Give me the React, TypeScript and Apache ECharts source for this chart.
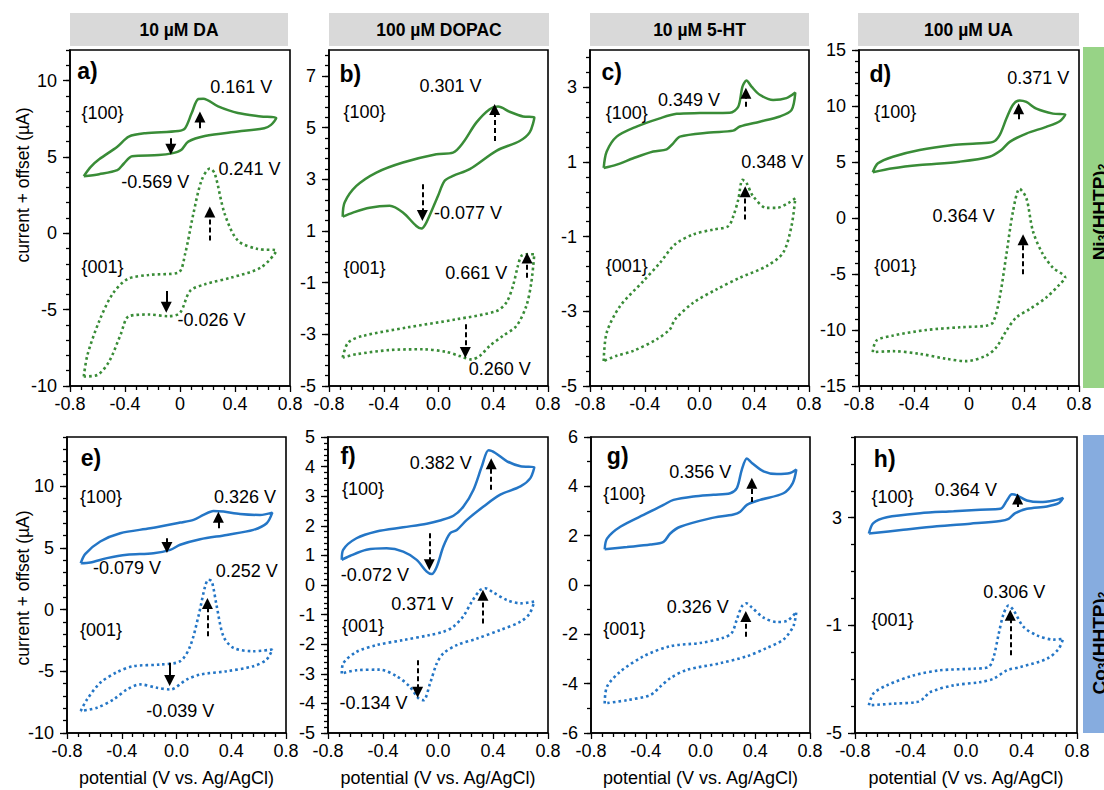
import { useEffect, useRef } from "react";
import * as echarts from "echarts";

const FONT = "'Liberation Sans', Arial, sans-serif";
const GREEN = "#398c37";
const BLUE = "#2476c6";

const columnTitles = ["10 µM DA", "100 µM DOPAC", "10 µM 5-HT", "100 µM UA"];
const panelLetters = ["a)", "b)", "c)", "d)", "e)", "f)", "g)", "h)"];
const rowNames = ["Ni{s|3}(HHTP){s|2}", "Co{s|3}(HHTP){s|2}"];

// y axis ranges and tick labels per panel
const yMin = [-10, -5, -5, -15, -10, -5, -6, -5];
const yMax = [12, 8, 4, 15, 14, 5, 6, 6];
const yLabelValues = [
  [-10, -5, 0, 5, 10],
  [-5, -3, -1, 1, 3, 5, 7],
  [-5, -3, -1, 1, 3],
  [-15, -10, -5, 0, 5, 10, 15],
  [-10, -5, 0, 5, 10],
  [-5, -4, -3, -2, -1, 0, 1, 2, 3, 4, 5],
  [-6, -4, -2, 0, 2, 4, 6],
  [-5, -1, 3],
];
const yMinorStep = [1, 0.4, 0.4, 1, 1, 0.2, 1, 1];
const xShortZero = [true, false, false, true, false, false, false, false];

// CV curves [potential V, current µA] — {100} (solid) and {001} (dotted)
const a100 = [[-0.70,3.74],[-0.649,4.35],[-0.588,4.84],[-0.456,5.67],[-0.372,6.33],[-0.252,6.55],[-0.012,6.70],[0.037,6.88],[0.085,7.87],[0.133,8.79],[0.169,8.81],[0.277,8.31],[0.421,7.87],[0.589,7.65],[0.70,7.54],[0.662,7.10],[0.613,6.88],[0.421,6.66],[0.181,6.37],[0.06,6.0],[0.008,5.45],[-0.06,5.23],[-0.156,5.12],[-0.348,5.05],[-0.408,4.57],[-0.456,4.13],[-0.588,3.87],[-0.70,3.74]];
const a001 = [[-0.70,-9.38],[-0.673,-7.96],[-0.588,-5.76],[-0.492,-4.0],[-0.384,-3.01],[-0.228,-2.73],[-0.012,-2.57],[0.037,-1.36],[0.097,1.27],[0.157,3.47],[0.217,4.24],[0.253,3.91],[0.325,1.27],[0.421,-0.48],[0.565,-1.03],[0.70,-1.14],[0.589,-2.24],[0.373,-2.90],[0.181,-3.34],[0.073,-3.78],[0.0,-5.21],[-0.084,-5.43],[-0.228,-5.32],[-0.372,-5.43],[-0.432,-6.64],[-0.516,-8.40],[-0.60,-9.27],[-0.70,-9.38]];
const b100 = [[-0.70,1.55],[-0.686,2.10],[-0.6,2.74],[-0.454,3.26],[-0.26,3.65],[-0.016,3.97],[0.106,4.03],[0.18,4.42],[0.276,5.19],[0.374,5.71],[0.435,5.81],[0.52,5.61],[0.617,5.43],[0.70,5.39],[0.666,4.81],[0.593,4.48],[0.423,4.10],[0.228,3.39],[0.106,3.13],[0.045,2.94],[-0.004,2.35],[-0.089,1.32],[-0.125,1.09],[-0.162,1.19],[-0.26,1.71],[-0.357,1.97],[-0.503,1.90],[-0.625,1.71],[-0.70,1.55]];
const b001 = [[-0.70,-3.90],[-0.66,-3.32],[-0.55,-3.06],[-0.235,-2.74],[0.13,-2.42],[0.423,-2.10],[0.496,-1.77],[0.544,-1.13],[0.58,-0.35],[0.605,0.03],[0.642,0.10],[0.70,0.10],[0.678,-1.0],[0.642,-1.90],[0.569,-2.68],[0.471,-3.06],[0.374,-3.45],[0.301,-3.84],[0.24,-3.97],[0.155,-3.84],[0.057,-3.68],[-0.113,-3.58],[-0.357,-3.61],[-0.6,-3.77],[-0.70,-3.90]];
const c100 = [[-0.70,0.84],[-0.678,1.28],[-0.605,1.68],[-0.46,1.95],[-0.29,2.17],[-0.167,2.29],[0.003,2.31],[0.222,2.32],[0.283,2.48],[0.314,3.02],[0.343,3.18],[0.38,3.02],[0.44,2.80],[0.538,2.66],[0.635,2.71],[0.70,2.86],[0.672,2.39],[0.587,2.22],[0.44,2.08],[0.295,1.95],[0.246,1.84],[0.076,1.79],[-0.143,1.68],[-0.192,1.50],[-0.24,1.34],[-0.338,1.28],[-0.484,1.10],[-0.605,0.93],[-0.70,0.84]];
const c001 = [[-0.70,-4.33],[-0.678,-3.57],[-0.58,-2.86],[-0.41,-2.19],[-0.289,-1.70],[-0.18,-1.21],[-0.046,-0.94],[0.1,-0.81],[0.21,-0.72],[0.246,-0.46],[0.283,-0.01],[0.314,0.52],[0.343,0.44],[0.392,0.08],[0.49,-0.23],[0.562,-0.23],[0.648,-0.10],[0.70,0.03],[0.672,-0.72],[0.611,-1.43],[0.49,-1.79],[0.295,-2.10],[0.125,-2.41],[-0.046,-2.77],[-0.18,-3.22],[-0.216,-3.48],[-0.313,-3.75],[-0.484,-4.06],[-0.605,-4.19],[-0.70,-4.33]];
const d100 = [[-0.70,4.08],[-0.662,4.88],[-0.553,5.47],[-0.359,6.07],[-0.116,6.51],[0.053,6.66],[0.175,6.80],[0.223,7.40],[0.272,8.88],[0.32,10.12],[0.368,10.50],[0.417,10.36],[0.49,9.76],[0.611,9.32],[0.70,9.23],[0.66,8.64],[0.562,8.14],[0.417,7.54],[0.296,6.80],[0.235,6.07],[0.15,5.47],[-0.068,5.03],[-0.359,4.73],[-0.553,4.44],[-0.70,4.08]];
const d001 = [[-0.70,-11.98],[-0.674,-10.95],[-0.553,-10.5],[-0.31,-10.0],[-0.068,-9.76],[0.126,-9.62],[0.175,-9.32],[0.223,-7.1],[0.272,-3.25],[0.32,0.59],[0.368,2.60],[0.417,1.78],[0.465,-1.18],[0.538,-3.25],[0.611,-4.44],[0.70,-5.33],[0.66,-5.92],[0.562,-7.1],[0.441,-8.14],[0.344,-8.88],[0.272,-10.06],[0.199,-11.54],[0.126,-12.28],[-0.019,-12.78],[-0.165,-12.57],[-0.359,-12.13],[-0.553,-11.89],[-0.70,-11.98]];
const e100 = [[-0.70,3.77],[-0.666,4.53],[-0.557,5.53],[-0.411,6.20],[-0.192,6.60],[0.027,7.06],[0.124,7.28],[0.197,7.68],[0.27,8.0],[0.343,7.95],[0.464,7.76],[0.61,7.68],[0.70,7.87],[0.659,7.01],[0.562,6.47],[0.367,6.06],[0.173,5.71],[0.027,5.26],[-0.046,4.85],[-0.168,4.58],[-0.362,4.45],[-0.508,4.18],[-0.63,3.83],[-0.70,3.77]];
const e001 = [[-0.70,-8.22],[-0.654,-7.28],[-0.557,-5.93],[-0.435,-5.07],[-0.314,-4.58],[-0.119,-4.45],[0.027,-4.18],[0.1,-2.96],[0.16,-0.54],[0.209,1.89],[0.233,2.43],[0.258,2.29],[0.294,0.27],[0.343,-2.16],[0.416,-3.10],[0.562,-3.37],[0.70,-3.23],[0.659,-4.04],[0.562,-4.58],[0.367,-4.99],[0.173,-5.26],[0.075,-5.66],[-0.046,-6.47],[-0.143,-6.33],[-0.265,-6.06],[-0.362,-6.47],[-0.46,-7.28],[-0.581,-7.95],[-0.70,-8.22]];
const f100 = [[-0.70,0.85],[-0.69,1.19],[-0.593,1.58],[-0.447,1.81],[-0.253,1.95],[-0.082,2.07],[0.015,2.18],[0.112,2.34],[0.185,2.65],[0.258,3.22],[0.319,4.01],[0.368,4.55],[0.417,4.46],[0.502,4.18],[0.6,4.01],[0.70,3.98],[0.672,3.61],[0.6,3.33],[0.453,3.05],[0.331,2.65],[0.21,2.20],[0.137,1.86],[0.088,1.75],[0.039,1.30],[-0.009,0.62],[-0.046,0.37],[-0.082,0.45],[-0.155,0.85],[-0.253,1.13],[-0.374,1.24],[-0.52,1.19],[-0.642,0.98],[-0.70,0.85]];
const f001 = [[-0.70,-2.99],[-0.69,-2.65],[-0.593,-2.26],[-0.447,-2.03],[-0.253,-1.86],[-0.058,-1.69],[0.039,-1.58],[0.112,-1.41],[0.185,-1.05],[0.246,-0.56],[0.307,-0.17],[0.344,-0.11],[0.404,-0.26],[0.502,-0.51],[0.6,-0.62],[0.70,-0.56],[0.667,-0.96],[0.6,-1.24],[0.453,-1.52],[0.283,-1.81],[0.137,-2.03],[0.039,-2.31],[-0.009,-2.65],[-0.058,-3.33],[-0.105,-3.89],[-0.14,-3.84],[-0.204,-3.44],[-0.301,-3.08],[-0.423,-2.86],[-0.593,-2.88],[-0.70,-2.99]];
const g100 = [[-0.70,1.45],[-0.683,1.88],[-0.586,2.36],[-0.391,2.91],[-0.27,3.25],[-0.197,3.45],[-0.051,3.59],[0.095,3.66],[0.217,3.72],[0.266,3.93],[0.302,4.68],[0.339,5.13],[0.375,4.95],[0.46,4.61],[0.558,4.50],[0.655,4.54],[0.70,4.68],[0.674,4.13],[0.606,3.72],[0.436,3.45],[0.339,3.25],[0.29,2.97],[0.241,2.86],[0.071,2.70],[-0.148,2.36],[-0.221,2.09],[-0.27,1.75],[-0.367,1.64],[-0.537,1.54],[-0.70,1.45]];
const g001 = [[-0.70,-4.80],[-0.683,-4.12],[-0.586,-3.51],[-0.416,-2.89],[-0.221,-2.48],[-0.002,-2.35],[0.168,-2.14],[0.229,-1.94],[0.266,-1.39],[0.302,-0.87],[0.334,-0.74],[0.375,-0.91],[0.46,-1.32],[0.558,-1.50],[0.631,-1.46],[0.70,-1.09],[0.679,-1.66],[0.606,-2.21],[0.485,-2.55],[0.339,-2.89],[0.144,-3.17],[-0.099,-3.44],[-0.221,-3.78],[-0.294,-4.12],[-0.367,-4.46],[-0.537,-4.67],[-0.70,-4.80]];
const h100 = [[-0.70,2.41],[-0.668,2.80],[-0.571,3.02],[-0.331,3.17],[-0.09,3.24],[0.102,3.30],[0.247,3.33],[0.295,3.64],[0.331,3.87],[0.367,3.83],[0.439,3.64],[0.535,3.58],[0.632,3.64],[0.70,3.74],[0.668,3.54],[0.584,3.42],[0.439,3.33],[0.355,3.17],[0.307,2.96],[0.247,2.88],[0.03,2.78],[-0.21,2.68],[-0.451,2.55],[-0.70,2.41]];
const h001 = [[-0.70,-3.97],[-0.668,-3.54],[-0.571,-3.23],[-0.379,-2.86],[-0.186,-2.67],[0.054,-2.61],[0.162,-2.55],[0.199,-2.18],[0.235,-1.33],[0.271,-0.57],[0.307,-0.26],[0.343,-0.44],[0.415,-1.06],[0.511,-1.37],[0.632,-1.53],[0.70,-1.50],[0.668,-1.87],[0.584,-2.24],[0.391,-2.55],[0.295,-2.67],[0.199,-2.98],[0.102,-3.11],[-0.09,-3.23],[-0.259,-3.48],[-0.307,-3.72],[-0.355,-3.85],[-0.523,-3.91],[-0.70,-3.97]];

const curves100 = [a100, b100, c100, d100, e100, f100, g100, h100];
const curves001 = [a001, b001, c001, d001, e001, f001, g001, h001];

// peak arrows: [potential, from current, to current, dashed]
const arrows = [
  [[0.145, 6.88, 7.62, 0], [-0.067, 6.22, 5.5, 0], [0.217, -0.48, 1.4, 1], [-0.1, -3.78, -4.85, 0]],
  [[0.41, 4.48, 5.7, 1], [-0.118, 2.81, 1.6, 1], [0.647, -0.81, -0.05, 1], [0.196, -2.61, -3.7, 1]],
  [[0.339, 2.48, 2.84, 1], [0.334, -0.54, 0.2, 1]],
  [[0.361, 8.82, 9.75, 0], [0.393, -5.03, -1.95, 1]],
  [[0.306, 6.60, 7.5, 0], [-0.07, 5.80, 5.05, 0], [0.226, -2.16, 0.5, 1], [-0.05, -4.31, -5.75, 0]],
  [[0.387, 3.22, 4.1, 1], [-0.063, 1.75, 0.68, 1], [0.327, -1.30, -0.35, 1], [-0.148, -2.54, -3.62, 1]],
  [[0.375, 3.36, 4.12, 1], [0.331, -2.10, -1.28, 1]],
  [[0.372, 3.40, 3.7, 0], [0.319, -2.11, -0.62, 1]],
];

// annotations: [potential, current, text]
const annotations = [
  [[0.445, 9.58, "0.161 V"], [-0.564, 7.87, "{100}"], [-0.18, 3.36, "-0.569 V"], [0.505, 4.24, "0.241 V"], [-0.564, -2.24, "{001}"], [0.229, -5.71, "-0.026 V"]],
  [[0.087, 6.59, "0.301 V"], [-0.54, 5.61, "{100}"], [0.216, 1.71, "-0.077 V"], [-0.54, -0.42, "{001}"], [0.276, -0.61, "0.661 V"], [0.447, -4.35, "0.260 V"]],
  [[-0.077, 2.66, "0.349 V"], [-0.532, 2.31, "{100}"], [0.531, 1.01, "0.348 V"], [-0.532, -1.79, "{001}"]],
  [[0.504, 12.5, "0.371 V"], [-0.536, 9.47, "{100}"], [-0.039, 0.15, "0.364 V"], [-0.536, -4.29, "{001}"]],
  [[0.501, 9.16, "0.326 V"], [-0.552, 9.16, "{100}"], [-0.362, 3.37, "-0.079 V"], [0.513, 3.1, "0.252 V"], [-0.552, -1.62, "{001}"], [0.027, -8.22, "-0.039 V"]],
  [[0.02, 4.12, "0.382 V"], [-0.545, 3.25, "{100}"], [-0.459, 0.34, "-0.072 V"], [-0.114, -0.64, "0.371 V"], [-0.545, -1.39, "{001}"], [-0.469, -4.0, "-0.134 V"]],
  [[-0.002, 4.58, "0.356 V"], [-0.557, 3.70, "{100}"], [-0.02, -0.91, "0.326 V"], [-0.557, -1.80, "{001}"]],
  [[-0.001, 4.02, "0.364 V"], [-0.53, 3.77, "{100}"], [0.348, 0.24, "0.306 V"], [-0.53, -0.81, "{001}"]],
];
const letterPos = [[-0.673, 10.6], [-0.644, 7.06], [-0.642, 3.42], [-0.645, 12.87], [-0.625, 12.26], [-0.654, 4.35], [-0.605, 5.22], [-0.586, 5.19]];

// layout (pixels)
const gridRects = [
  [70, 50, 220, 336], [329, 50, 219, 336], [590, 50, 219, 336], [859, 50, 220, 336],
  [67, 437, 219, 296], [328, 437, 220, 296], [591, 437, 219, 296], [855, 437, 222, 296],
];
const headerRects = [[70, 13, 218, 33], [329, 13, 220, 33], [590, 13, 219, 33], [858, 13, 221, 33]];

function steps(min: number, max: number, step: number) {
  const out: number[] = [];
  const n = Math.floor((max - min) / step + 1e-6);
  for (let i = 0; i <= n; i++) out.push(+(min + i * step).toFixed(4));
  return out;
}

function buildOption() {
  const grid = gridRects.map(([l, t, w, h]) => ({
    left: l, top: t, width: w, height: h, show: true, borderColor: "#000", borderWidth: 1.6,
    backgroundColor: "transparent", containLabel: false, outerBoundsMode: "none",
  }));
  const xAxis = gridRects.map((_, i) => ({
    type: "value", gridIndex: i, min: -0.8, max: 0.8, interval: 0.4, position: "bottom",
    axisLine: { show: true, onZero: false, lineStyle: { color: "#000", width: 1.6 } },
    axisTick: { show: true, length: 6, lineStyle: { color: "#000", width: 1.3 } },
    minorTick: { show: true, splitNumber: 5, length: 4, lineStyle: { color: "#000", width: 1.3 } },
    splitLine: { show: false }, minorSplitLine: { show: false },
    axisLabel: {
      color: "#000", fontSize: 18, fontFamily: FONT, margin: 9, hideOverlap: false,
      formatter: (v: number) => (Math.abs(v) < 1e-9 ? (xShortZero[i] ? "0" : "0.0") : v.toFixed(1)),
    },
    name: i >= 4 ? "potential (V vs. Ag/AgCl)" : "",
    nameLocation: "middle", nameGap: 36,
    nameTextStyle: { color: "#000", fontSize: 18, fontFamily: FONT },
  }));
  const yAxis: any[] = [];
  gridRects.forEach((_, i) => {
    yAxis.push({
      type: "value", gridIndex: i, min: yMin[i], max: yMax[i], position: "left",
      axisLine: { show: true, onZero: false, lineStyle: { color: "#000", width: 1.6 } },
      axisTick: { show: true, length: 7, customValues: yLabelValues[i], lineStyle: { color: "#000", width: 1.3 } },
      axisLabel: { color: "#000", fontSize: 18, fontFamily: FONT, margin: 13, customValues: yLabelValues[i], hideOverlap: false },
      splitLine: { show: false },
    });
    yAxis.push({
      type: "value", gridIndex: i, min: yMin[i], max: yMax[i], position: "left",
      axisLine: { show: false, onZero: false },
      axisTick: { show: true, length: 4, customValues: steps(yMin[i], yMax[i], yMinorStep[i]), lineStyle: { color: "#000", width: 1.3 } },
      axisLabel: { show: false },
      splitLine: { show: false },
    });
  });

  const series: any[] = [];
  gridRects.forEach((_, i) => {
    const color = i < 4 ? GREEN : BLUE;
    const arrowData = arrows[i].map(([x, y1, y2, dashed]) => {
      const ls = { color: "#000", width: 2, type: dashed ? [5, 3] : "solid" };
      return [
        { coord: [x, y1], symbol: "none", lineStyle: ls },
        { coord: [x, y2], symbol: "triangle", lineStyle: ls },
      ];
    });
    series.push({
      type: "line", xAxisIndex: i, yAxisIndex: 2 * i, data: curves100[i], showSymbol: false, symbol: "none",
      smooth: 0.3, lineStyle: { color, width: 2.5 }, itemStyle: { color }, silent: true, z: 3,
      markLine: {
        silent: true, symbol: ["none", "triangle"], symbolSize: [11, 11], label: { show: false },
        lineStyle: { color: "#000", width: 2 }, itemStyle: { color: "#000" }, emphasis: { disabled: true }, animation: false,
        precision: 4, data: arrowData,
      },
    });
    series.push({
      type: "line", xAxisIndex: i, yAxisIndex: 2 * i, data: curves001[i], showSymbol: false, symbol: "none",
      smooth: 0.3, lineStyle: { color, width: 2.6, type: [2.6, 3], cap: "butt" }, itemStyle: { color }, silent: true, z: 3,
    });
    const labelData: any[] = annotations[i].map(([x, y, t]) => ({ value: [x, y], name: t }));
    labelData.push({
      value: letterPos[i], name: panelLetters[i],
      label: { fontWeight: "bold", fontSize: 23 },
    });
    series.push({
      type: "scatter", xAxisIndex: i, yAxisIndex: 2 * i, symbolSize: 0, silent: true, z: 10,
      itemStyle: { color: "#000" },
      label: { show: true, position: "inside", formatter: "{b}", color: "#000", opacity: 1, textBorderWidth: 0, fontSize: 18, fontFamily: FONT },
      data: labelData,
    });
  });

  const graphic: any[] = [];
  headerRects.forEach(([x, y, w, h], i) => {
    graphic.push({ type: "rect", shape: { x, y, width: w, height: h }, style: { fill: "#d9d9d9" }, silent: true });
    graphic.push({
      type: "text", x: x + w / 2, y: y + h / 2, silent: true,
      style: { text: columnTitles[i], fill: "#000", fontSize: 17.5, fontWeight: "bold", fontFamily: FONT, align: "center", verticalAlign: "middle" },
    });
  });
  const strips = [[1083, 47, 30, 341, "#97d386", 212], [1083, 435, 30, 298, "#86acdf", 643]];
  strips.forEach(([x, y, w, h, fill, cy]: any, i) => {
    graphic.push({ type: "rect", shape: { x, y, width: w, height: h }, style: { fill }, silent: true });
    graphic.push({
      type: "text", x: 1099, y: cy, rotation: Math.PI / 2, silent: true,
      style: {
        text: rowNames[i], fill: "#000", fontSize: 19, fontWeight: "bold", fontFamily: FONT,
        align: "center", verticalAlign: "middle",
        rich: { s: { fontSize: 12, fontWeight: "bold", fontFamily: FONT, fill: "#000", padding: [8, 0, 0, 0] } },
      },
    });
  });
  [185, 588].forEach((cy) => {
    graphic.push({
      type: "text", x: 23, y: cy, rotation: Math.PI / 2, silent: true,
      style: { text: "current + offset (µA)", fill: "#000", fontSize: 17.5, fontFamily: FONT, align: "center", verticalAlign: "middle" },
    });
  });

  return {
    animation: false,
    backgroundColor: "#fff",
    textStyle: { fontFamily: FONT },
    grid, xAxis, yAxis, series, graphic,
  };
}

export default function App() {
  const ref = useRef<HTMLDivElement>(null);
  useEffect(() => {
    document.body.style.margin = "0";
    const chart = echarts.init(ref.current!, undefined, { renderer: "svg" });
    chart.setOption(buildOption() as any);
    return () => chart.dispose();
  }, []);
  return <div ref={ref} style={{ width: 1104, height: 790 }} />;
}
